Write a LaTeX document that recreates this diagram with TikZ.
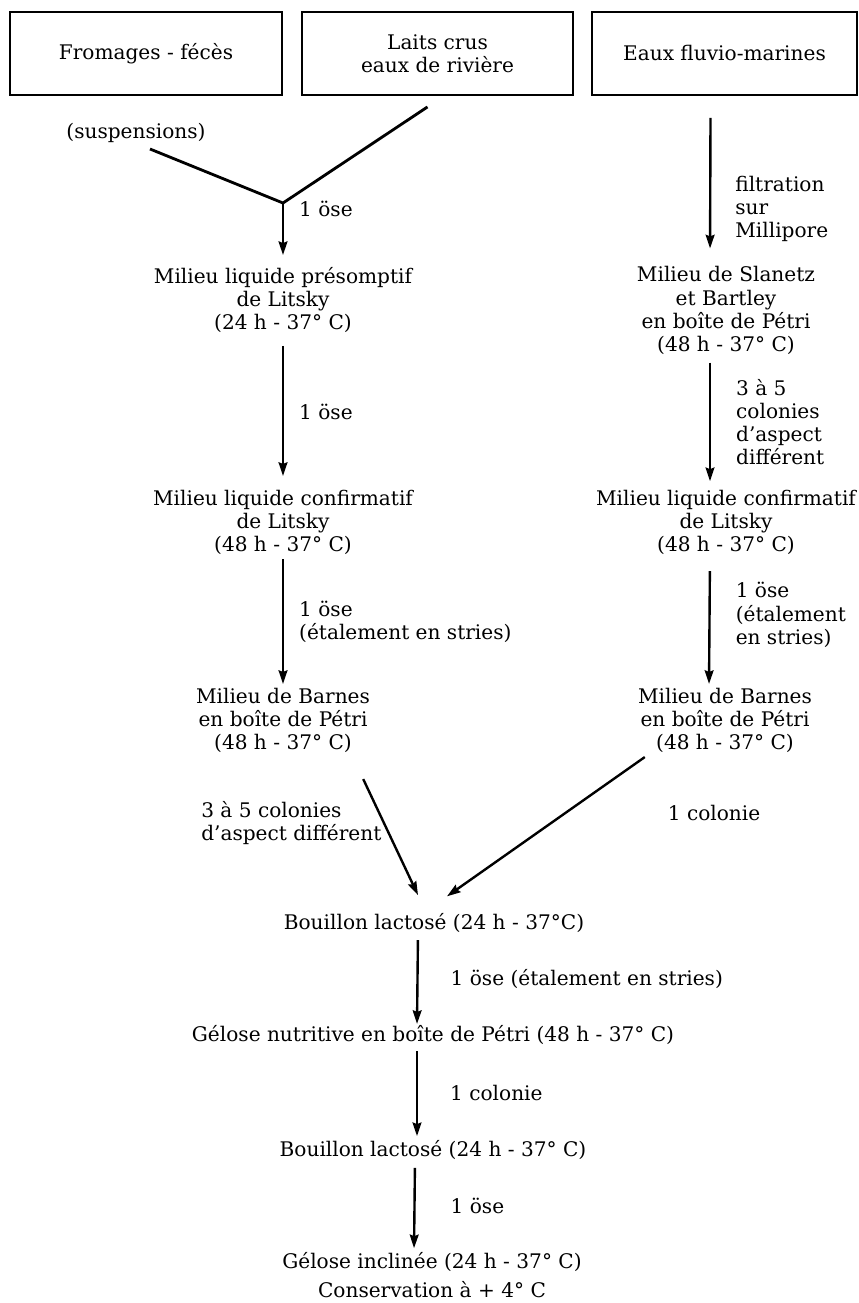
\documentclass[tikz,border=0pt]{standalone}
\usepackage{fontspec}
\setmainfont{DejaVu Serif}
\usetikzlibrary{arrows.meta,positioning}

\begin{document}
\begin{tikzpicture}[x=0.025cm,y=-0.025cm,>={Stealth[length=3.4mm,width=2.2mm,inset=0.4mm]},
    etape/.style={align=center,inner sep=0pt,font=\fontsize{14.3}{16.4}\selectfont},
    legende/.style={align=left,inner sep=0pt,font=\fontsize{14.3}{16.4}\selectfont},
    boite/.style={draw,line width=1.3pt,minimum height=2.075cm,inner sep=0pt,align=center,
      font=\fontsize{14.3}{16.4}\selectfont},
    fleche/.style={->,line width=1.7pt}]
  \useasboundingbox (0,0) rectangle (858,1303);
  % les trois origines
  \node[boite,minimum width=6.8cm] (fromages) at (146,53.5) {Fromages - fécès};
  \node[boite,minimum width=6.78cm] (laits) at (437.5,53.5) {Laits crus\\eaux de rivière};
  \node[boite,minimum width=6.63cm] (eaux) at (724.5,53.5) {Eaux fluvio-marines};
  \node[etape] (susp) at (136,133) {(suspensions)};
  % colonne de gauche
  \node[etape] (presompL) at (283,300) {Milieu liquide présomptif\\de Litsky\\(24 h - 37° C)};
  \node[etape] (confL) at (283,522.5) {Milieu liquide confirmatif\\de Litsky\\(48 h - 37° C)};
  \node[etape] (barnesL) at (283,720.5) {Milieu de Barnes\\en boîte de Pétri\\(48 h - 37° C)};
  % colonne de droite
  \node[etape] (slanetz) at (726,310.5) {Milieu de Slanetz\\et Bartley\\en boîte de Pétri\\(48 h - 37° C)};
  \node[etape] (confR) at (726,522.5) {Milieu liquide confirmatif\\de Litsky\\(48 h - 37° C)};
  \node[etape] (barnesR) at (725,720.5) {Milieu de Barnes\\en boîte de Pétri\\(48 h - 37° C)};
  % tronc commun
  \node[etape] (bouillonA) at (434,923) {Bouillon lactosé (24 h - 37°C)};
  \node[etape] (gelose) at (433,1035) {Gélose nutritive en boîte de Pétri (48 h - 37° C)};
  \node[etape] (bouillonB) at (433,1150) {Bouillon lactosé (24 h - 37° C)};
  \node[etape] (inclinee) at (432,1275) {Gélose inclinée (24 h - 37° C)\\[4pt]Conservation à + 4° C};

  % la fourche du haut
  \coordinate (depart) at (150,149);
  \coordinate (jonction) at (283,203);
  \draw[line width=2pt] (depart) -- (jonction) -- ([xshift=-0.25cm,yshift=-0.275cm]laits.south);
  \draw[fleche,shorten >=0.3cm] (jonction) -- node[pos=0.1,right=0.375cm,legende] {1 öse} (presompL.north);
  \draw[fleche,shorten <=0.32cm,shorten >=0.35cm] (presompL.south) -- node[midway,right=0.375cm,legende] {1 öse} (confL.north);
  \draw[fleche,shorten <=0.1cm,shorten >=0.1cm] (confL.south) -- node[midway,right=0.375cm,legende] {1 öse\\(étalement en stries)} (barnesL.north);

  \draw[fleche,shorten >=0.45cm] ([xshift=-0.35cm,yshift=-0.55cm]eaux.south) -- node[pos=0.61,right=0.6cm,legende] {filtration\\sur\\Millipore} ([xshift=-0.4cm]slanetz.north);
  \draw[fleche,shorten <=0.2cm,shorten >=0.22cm] ([xshift=-0.4cm]slanetz.south) -- node[midway,right=0.625cm,legende] {3 à 5\\colonies\\d'aspect\\différent} ([xshift=-0.4cm]confR.north);
  \draw[fleche,shorten <=0.4cm,shorten >=0.1cm] ([xshift=-0.4cm]confR.south) -- node[pos=0.45,right=0.625cm,legende] {1 öse\\(étalement\\en stries)} ([xshift=-0.4cm]barnesR.north);

  % convergence
  \draw[fleche] ([shift={(-0.175cm,-0.65cm)}]barnesL.south east) -- node[pos=0.38,left=1pt,legende] {3 à 5 colonies\\d’aspect différent} ([shift={(-0.4cm,0.45cm)}]bouillonA.north);
  \draw[fleche] ([shift={(0.175cm,-0.1cm)}]barnesR.south west) -- node[pos=0.4,right=2.525cm,legende] {1 colonie} ([shift={(0.325cm,0.42cm)}]bouillonA.north);

  \draw[fleche,shorten <=0.18cm,shorten >=0.03cm] ([xshift=-0.4cm]bouillonA.south) -- node[midway,right=0.8cm,legende] {1 öse (étalement en stries)} ([xshift=-0.4cm]gelose.north);
  \draw[fleche,shorten <=0.16cm,shorten >=0.1cm] ([xshift=-0.4cm]gelose.south) -- node[midway,right=0.8cm,legende] {1 colonie} ([xshift=-0.4cm]bouillonB.north);
  \draw[fleche,shorten <=0.2cm,shorten >=0.1cm] ([xshift=-0.45cm]bouillonB.south) -- node[midway,right=0.875cm,legende] {1 öse} ([xshift=-0.45cm]inclinee.north);
\end{tikzpicture}
\end{document}
